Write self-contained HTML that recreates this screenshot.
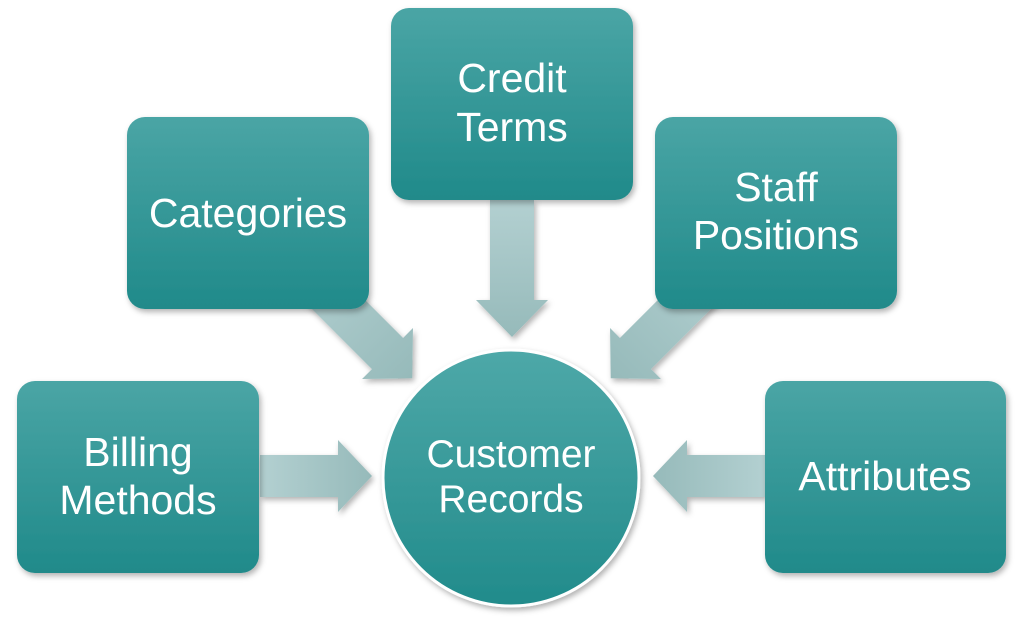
<!DOCTYPE html>
<html><head><style>body{margin:0;background:#fff}svg{display:block}</style></head><body>
<svg width="1024" height="620" viewBox="0 0 1024 620" xmlns="http://www.w3.org/2000/svg" font-family="Liberation Sans, sans-serif">
<defs>
<linearGradient id="bx" x1="0" y1="0" x2="0" y2="1"><stop offset="0" stop-color="#4aa5a5"/><stop offset="1" stop-color="#208a8a"/></linearGradient>
<linearGradient id="ci" x1="0" y1="0" x2="0" y2="1"><stop offset="0" stop-color="#4ea8a8"/><stop offset="1" stop-color="#218b8b"/></linearGradient>
<linearGradient id="ar" x1="0" y1="0" x2="1" y2="0"><stop offset="0" stop-color="#b3d0d1"/><stop offset="1" stop-color="#96baba"/></linearGradient>
<filter id="sh" x="-10%" y="-10%" width="130%" height="130%"><feDropShadow dx="2" dy="3" stdDeviation="3" flood-color="#000" flood-opacity="0.3"/></filter>
</defs>
<g fill="url(#ar)" filter="url(#sh)">
<path d="M0,-22 H128 V-36 L163,0 L128,36 V22 H0 Z" transform="translate(297,263) rotate(45)"/>
<path d="M0,-22 H128 V-36 L163,0 L128,36 V22 H0 Z" transform="translate(726,263) rotate(135)"/>
<path d="M0,-22 H100 V-36 L137,0 L100,36 V22 H0 Z" transform="translate(512,200) rotate(90)"/>
<path d="M0,-21 H78 V-36 L112,0 L78,36 V21 H0 Z" transform="translate(260,476)"/>
<path d="M0,-21 H78 V-36 L112,0 L78,36 V21 H0 Z" transform="translate(765,476) rotate(180)"/>
</g>
<g fill="url(#bx)" filter="url(#sh)">
<rect x="391" y="8" width="242" height="192" rx="18"/>
<rect x="127" y="117" width="242" height="192" rx="18"/>
<rect x="655" y="117" width="242" height="192" rx="18"/>
<rect x="17" y="381" width="242" height="192" rx="18"/>
<rect x="765" y="381" width="241" height="192" rx="18"/>
</g>
<circle cx="511" cy="478" r="128" fill="url(#ci)" stroke="#fff" stroke-width="3" filter="url(#sh)"/>
<g fill="#fff" font-size="41" text-anchor="middle">
<text x="512" y="92">Credit</text><text x="512" y="141">Terms</text>
<text x="248" y="227">Categories</text>
<text x="776" y="201">Staff</text><text x="776" y="249">Positions</text>
<text x="138" y="466">Billing</text><text x="138" y="514">Methods</text>
<text x="885" y="490">Attributes</text>
<text x="511" y="467" font-size="39">Customer</text><text x="511" y="512" font-size="39">Records</text>
</g>
</svg>
</body></html>
